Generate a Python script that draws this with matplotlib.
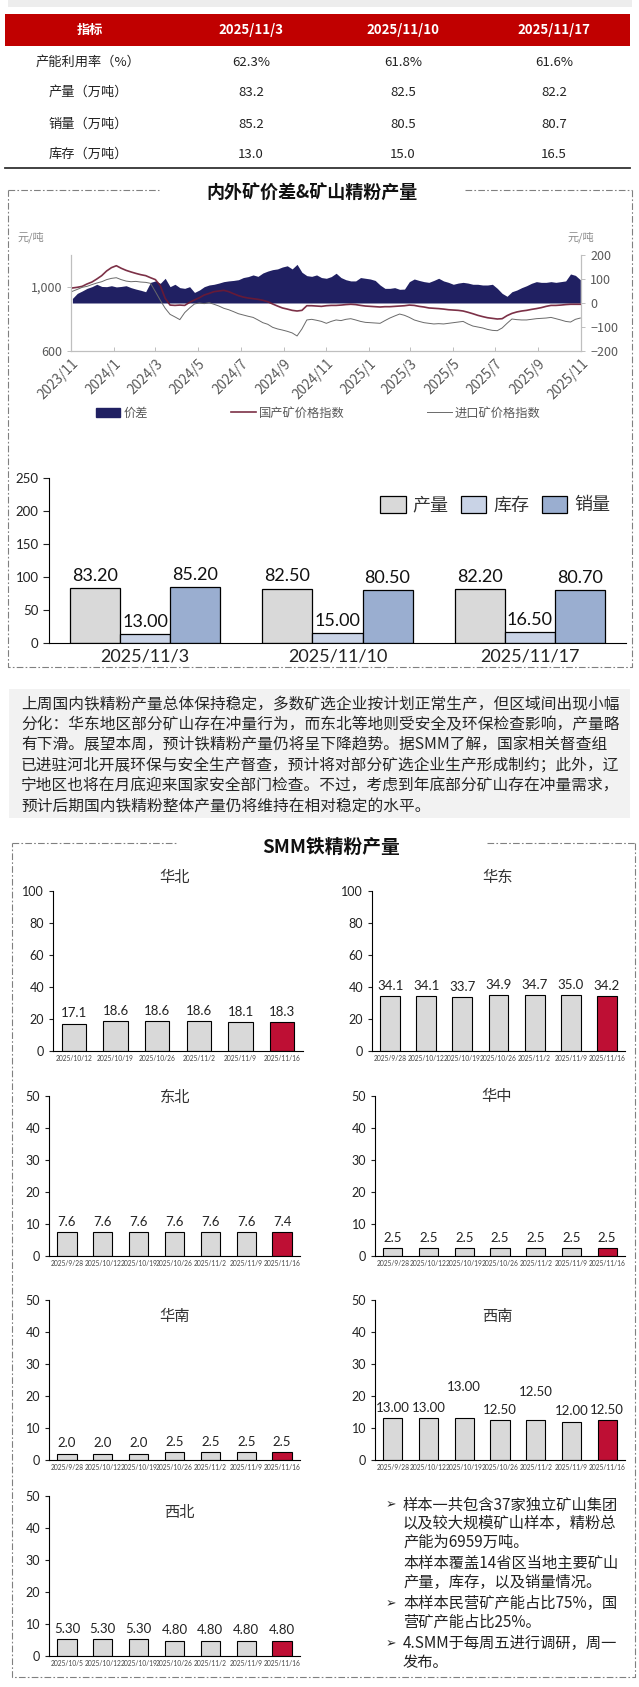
import numpy as np
import pandas as pd
import matplotlib
matplotlib.use('Agg')
import matplotlib.pyplot as plt
from matplotlib.patches import Rectangle, Patch
from matplotlib.ticker import FuncFormatter

plt.rcParams['font.family'] = ['Noto Sans CJK SC', 'DejaVu Sans']
NUM = ['Lato', 'Noto Sans CJK SC', 'DejaVu Sans']

W, H = 639, 1687

# ---- table data ----
weeks = ['2025/11/3', '2025/11/10', '2025/11/17']
row_names = ['产能利用率（%）', '产量（万吨）', '销量（万吨）', '库存（万吨）']
util_rate = [62.3, 61.8, 61.6]
output = [83.2, 82.5, 82.2]
sales = [85.2, 80.5, 80.7]
stock = [13.0, 15.0, 16.5]

# ---- price spread chart data (weekly) ----
week_dates = pd.date_range('2023-11-03', periods=105, freq='7D')
spread = [19, 40, 50, 61, 68, 78, 69, 68, 72, 67,
          69, 72, 64, 58, 53, 47, 86, 92, 82, 103,
          68, 78, 64, 61, 68, 44, 54, 68, 75, 78,
          83, 89, 92, 94, 97, 106, 110, 117, 111, 125,
          133, 139, 142, 150, 155, 142, 161, 128, 114, 111,
          117, 106, 103, 110, 124, 106, 97, 92, 92, 106,
          103, 100, 94, 75, 61, 61, 64, 57, 58, 89,
          100, 94, 89, 86, 94, 103, 92, 86, 78, 83,
          86, 83, 78, 78, 75, 75, 78, 61, 40, 28,
          47, 54, 64, 72, 82, 89, 86, 86, 89, 86,
          89, 92, 121, 115, 97]
domestic = [994, 998, 1004, 1019, 1031, 1050, 1071, 1100, 1121, 1133,
            1117, 1104, 1094, 1085, 1077, 1071, 1058, 1046, 1008, 929,
            887, 885, 887, 885, 904, 919, 933, 950, 960, 971,
            975, 979, 971, 958, 946, 937, 931, 927, 923, 917,
            908, 894, 881, 869, 862, 854, 850, 854, 883, 883,
            881, 879, 883, 885, 885, 887, 890, 892, 890, 885,
            881, 879, 877, 875, 877, 877, 879, 881, 883, 887,
            885, 879, 875, 869, 867, 865, 862, 858, 856, 854,
            850, 842, 833, 823, 815, 808, 804, 800, 802, 821,
            835, 844, 850, 854, 860, 865, 871, 879, 885, 885,
            887, 890, 892, 892, 892]
imported = [973, 985, 998, 1004, 1015, 1025, 1033, 1046, 1054, 1058,
            1046, 1037, 1033, 1035, 1031, 1029, 1023, 971, 917, 867,
            829, 813, 796, 840, 869, 894, 900, 896, 902, 892,
            881, 867, 858, 846, 833, 825, 817, 810, 794, 777,
            767, 748, 738, 731, 723, 713, 694, 738, 794, 798,
            792, 785, 773, 785, 794, 790, 798, 802, 794, 785,
            779, 777, 775, 773, 790, 806, 819, 831, 823, 810,
            794, 785, 777, 773, 769, 771, 769, 773, 777, 781,
            785, 769, 756, 750, 744, 735, 729, 727, 744, 773,
            800, 796, 794, 794, 798, 802, 804, 806, 810, 802,
            794, 785, 781, 798, 806]

# ---- regional data ----
d6 = ['2025/10/12', '2025/10/19', '2025/10/26', '2025/11/2', '2025/11/9', '2025/11/16']
d7 = ['2025/9/28', '2025/10/12', '2025/10/19', '2025/10/26', '2025/11/2', '2025/11/9', '2025/11/16']
d7b = ['2025/10/5', '2025/10/12', '2025/10/19', '2025/10/26', '2025/11/2', '2025/11/9', '2025/11/16']
huabei = [17.1, 18.6, 18.6, 18.6, 18.1, 18.3]
huadong = [34.1, 34.1, 33.7, 34.9, 34.7, 35.0, 34.2]
dongbei = [7.6, 7.6, 7.6, 7.6, 7.6, 7.6, 7.4]
huazhong = [2.5, 2.5, 2.5, 2.5, 2.5, 2.5, 2.5]
huanan = [2.0, 2.0, 2.0, 2.5, 2.5, 2.5, 2.5]
xinan = [13.0, 13.0, 13.0, 12.5, 12.5, 12.0, 12.5]
xibei = [5.3, 5.3, 5.3, 4.8, 4.8, 4.8, 4.8]

paragraph = ['上周国内铁精粉产量总体保持稳定，多数矿选企业按计划正常生产，但区域间出现小幅',
             '分化：华东地区部分矿山存在冲量行为，而东北等地则受安全及环保检查影响，产量略',
             '有下滑。展望本周，预计铁精粉产量仍将呈下降趋势。据SMM了解，国家相关督查组',
             '已进驻河北开展环保与安全生产督查，预计将对部分矿选企业生产形成制约；此外，辽',
             '宁地区也将在月底迎来国家安全部门检查。不过，考虑到年底部分矿山存在冲量需求，',
             '预计后期国内铁精粉整体产量仍将维持在相对稳定的水平。']
notes = [('➢', '样本一共包含37家独立矿山集团'), ('', '以及较大规模矿山样本，精粉总'),
         ('', '产能为6959万吨。'), ('', '本样本覆盖14省区当地主要矿山'),
         ('', '产量，库存，以及销量情况。'), ('➢', '本样本民营矿产能占比75%，国'),
         ('', '营矿产能占比25%。'), ('➢', '4.SMM于每周五进行调研，周一'), ('', '发布。')]

NAVY = '#202062'
RED = '#c00000'
CRIMSON = '#be0f34'

fig = plt.figure(figsize=(W / 100, H / 100), dpi=100)
bg = fig.add_axes([0, 0, 1, 1])
bg.set_xlim(0, W)
bg.set_ylim(H, 0)
bg.axis('off')


def px_axes(x0, y0, x1, y1):
    return fig.add_axes([x0 / W, 1 - y1 / H, (x1 - x0) / W, (y1 - y0) / H])


def dash_box(x0, y0, x1, y1, gap):
    kw = dict(color='#808080', lw=0.8, ls=(0, (6, 2, 1.5, 2)))
    bg.plot([x0, gap[0]], [y0, y0], **kw)
    bg.plot([gap[1], x1], [y0, y0], **kw)
    bg.plot([x1, x1, x0, x0], [y0, y1, y1, y0], **kw)


# ---- top table ----
bg.add_patch(Rectangle((8, 0), 624, 7, color='#ededed', lw=0))
bg.add_patch(Rectangle((5, 14), 625, 32, color=RED, lw=0))
col_x = [90, 251, 403, 554]
bg.text(col_x[0], 30, '指标', color='white', weight='bold', fontsize=9.5, ha='center', va='center')
for cx, wk in zip(col_x[1:], weeks):
    bg.text(cx, 30, wk, color='white', weight='bold', fontsize=9.5, ha='center', va='center')
row_y = [62, 92, 124, 154]
row_vals = [[f'{v:.1f}%' for v in util_rate], [f'{v:.1f}' for v in output],
            [f'{v:.1f}' for v in sales], [f'{v:.1f}' for v in stock]]
for ry, name, vals in zip(row_y, row_names, row_vals):
    bg.text(88, ry, name, fontsize=9.5, ha='center', va='center', color='#222222')
    for cx, v in zip(col_x[1:], vals):
        bg.text(cx, ry, v, fontsize=9.5, ha='center', va='center', color='#222222')
bg.plot([5, 630], [168, 168], color='#333333', lw=1.3)

# ---- box 1: spread + production ----
dash_box(8, 190, 632, 667, (159, 465))
bg.text(312, 193, '内外矿价差&矿山精粉产量', fontsize=13, weight='bold', ha='center', va='center', color='#111111')
bg.text(31, 237, '元/吨', fontsize=8, style='italic', color='#8c8c8c', ha='center', va='center')
bg.text(581, 237, '元/吨', fontsize=8, style='italic', color='#8c8c8c', ha='center', va='center')

ax_r = px_axes(71, 255, 581, 351)
ax_r.fill_between(week_dates, 0, spread, color=NAVY, lw=0)
ax_l = ax_r.twinx()
l1, = ax_l.plot(week_dates, domestic, color='#6e1a33', lw=1.2, alpha=0.9)
l2, = ax_l.plot(week_dates, imported, color='#6a6a6a', lw=0.7)
ax_r.yaxis.tick_right()
ax_l.yaxis.tick_left()
ax_r.set_ylim(-200, 200)
ax_r.set_yticks([-200, -100, 0, 100, 200])
ax_l.set_ylim(600, 1200)
ax_l.set_yticks([600, 1000])
ax_l.yaxis.set_major_formatter(FuncFormatter(lambda v, p: f'{v:,.0f}'))
ax_r.set_xlim(pd.Timestamp('2023-11-01'), pd.Timestamp('2025-11-01'))
xt = pd.date_range('2023-11-01', '2025-11-01', freq='2MS')
ax_r.set_xticks(xt)
ax_r.set_xticklabels([f'{d.year}/{d.month}' for d in xt], rotation=45, ha='right',
                     rotation_mode='anchor')
for a in (ax_r, ax_l):
    a.set_facecolor('none')
    a.spines['top'].set_visible(False)
    for s in ('left', 'right', 'bottom'):
        a.spines[s].set_color('#bfbfbf')
        a.spines[s].set_linewidth(0.8)
    a.tick_params(colors='#bfbfbf', labelcolor='#595959', labelsize=9, length=3, width=0.7)
ax_r.tick_params(axis='x', direction='in', length=3, pad=4, labelsize=9.8)
fig.legend([Patch(color=NAVY), l1, l2], ['价差', '国产矿价格指数', '进口矿价格指数'],
           loc='center left', bbox_to_anchor=(96 / W, 1 - 413 / H), ncol=3, frameon=False,
           fontsize=8.8, handlelength=2.0, handletextpad=0.25, columnspacing=6.8,
           borderpad=0, borderaxespad=0, labelcolor='#595959')

# production bar chart
axb = px_axes(49, 478, 626, 643)
bw = 0.26
series = [(output, '#d9d9d9', '产量'), (stock, '#c9d3e6', '库存'), (sales, '#9aaed0', '销量')]
xs = np.arange(len(weeks))
for i, (vals, col, name) in enumerate(series):
    bars = axb.bar(xs + (i - 1) * bw, vals, bw, color=col, edgecolor='black', lw=0.9, label=name)
    axb.bar_label(bars, labels=[f'{v:.2f}' for v in vals], padding=3, fontsize=13,
                  family=NUM, color='#111111')
axb.set_xlim(-0.5, 2.5)
axb.set_ylim(0, 250)
axb.set_yticks(range(0, 251, 50))
axb.set_xticks(xs)
axb.set_xticklabels(weeks, fontsize=13, family=NUM)
for s in ('top', 'right'):
    axb.spines[s].set_visible(False)
axb.tick_params(axis='y', labelsize=9.5, length=4, colors='#222222')
axb.tick_params(axis='x', length=0, pad=4, colors='#222222')
for t in axb.get_yticklabels():
    t.set_family(NUM)
axb.set_facecolor('none')
h, lab = axb.get_legend_handles_labels()
fig.legend(h, lab, loc='center right', bbox_to_anchor=(610 / W, 1 - 505 / H), ncol=3,
           frameon=False, fontsize=13, handlelength=1.4, handleheight=1.1,
           handletextpad=0.4, columnspacing=0.67, borderpad=0, borderaxespad=0,
           labelcolor='#333333')

# ---- commentary paragraph ----
bg.add_patch(Rectangle((9, 689), 621, 129, color='#f2f2f2', lw=0))
for i, line in enumerate(paragraph):
    bg.text(21, 704 + i * 20.5, line, fontsize=11.3, va='center', ha='left', color='#262626')

# ---- SMM regional box ----
dash_box(12, 843, 635, 1677, (178, 487))
bg.text(331, 847, 'SMM铁精粉产量', fontsize=13.5, weight='bold', ha='center', va='center', color='#111111')


def region_chart(box, title, tpos, dates, vals, ymax, step, fmt, width, pads=None):
    ax = px_axes(*box)
    n = len(vals)
    cols = ['#d9d9d9'] * (n - 1) + [CRIMSON]
    ax.bar(np.arange(n), vals, width, color=cols, edgecolor='black', lw=0.8)
    pads = pads or [3] * n
    for i, v in enumerate(vals):
        ax.annotate(fmt.format(v), (i, v), xytext=(0, pads[i]), textcoords='offset points',
                    ha='center', va='bottom', fontsize=9.5, family=NUM, color='#222222')
    ax.set_xlim(-0.5, n - 0.5)
    ax.set_ylim(0, ymax)
    ax.set_yticks(np.arange(0, ymax + 1, step))
    ax.set_xticks(np.arange(n))
    ax.set_xticklabels(dates, fontsize=4.8, family=NUM, color='#444444')
    for s in ('top', 'right'):
        ax.spines[s].set_visible(False)
    ax.tick_params(axis='y', labelsize=9, length=3, colors='#222222')
    ax.tick_params(axis='x', length=0, pad=3)
    for t in ax.get_yticklabels():
        t.set_family(NUM)
    ax.set_facecolor('none')
    bg.text(tpos[0], tpos[1], title, fontsize=11, ha='center', va='center', color='#333333')
    return ax


region_chart((53, 891, 303, 1051), '华北', (175, 877), d6, huabei, 100, 20, '{:.1f}', 0.58)
region_chart((372, 891, 625, 1051), '华东', (498, 877), d7, huadong, 100, 20, '{:.1f}', 0.55)
region_chart((49, 1096, 300, 1256), '东北', (175, 1097), d7, dongbei, 50, 10, '{:.1f}', 0.54)
region_chart((375, 1096, 625, 1256), '华中', (497, 1097), d7, huazhong, 50, 10, '{:.1f}', 0.54)
region_chart((49, 1300, 300, 1460), '华南', (175, 1316), d7, huanan, 50, 10, '{:.1f}', 0.54)
region_chart((375, 1300, 625, 1460), '西南', (497, 1316), d7, xinan, 50, 10, '{:.2f}', 0.54,
             pads=[3, 3, 18, 3, 16, 3, 3])
region_chart((49, 1496, 300, 1656), '西北', (179, 1512), d7b, xibei, 50, 10, '{:.2f}', 0.54)

# notes
ny = 1505
for i, (mark, txt) in enumerate(notes):
    if i > 0 and (mark or i == 3):
        ny += 3
    if mark:
        bg.text(386, ny, mark, fontsize=9, ha='left', va='center', color='#222222')
    bg.text(403, ny, txt, fontsize=11, ha='left', va='center', color='#222222')
    ny += 18.5

fig.savefig('out.png', dpi=100)
